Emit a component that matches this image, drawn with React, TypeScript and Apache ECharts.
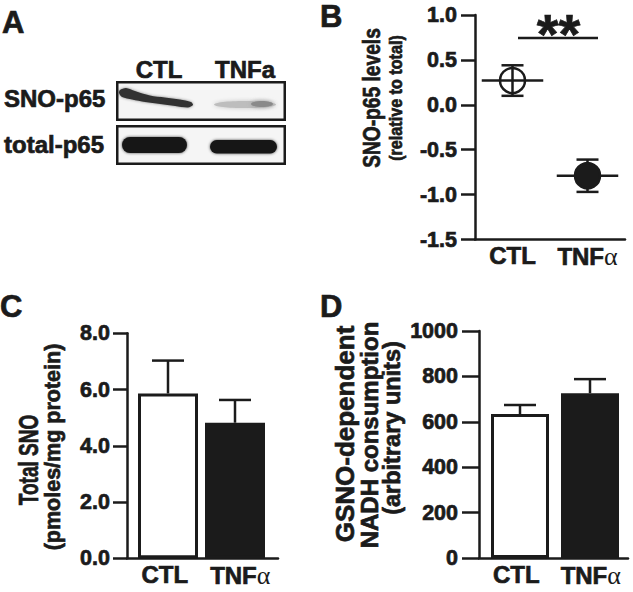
import React, { useEffect, useRef } from 'react';
import * as echarts from 'echarts';

// ---------- data ----------
const groups = ['CTL', 'TNFα'];
// Panel A (western blot labels)
const blotLanes = ['CTL', 'TNFa'];
const blotRows = ['SNO-p65', 'total-p65'];
// Panel B: SNO-p65 levels (relative to total), mean ± SEM
const snoMean = [0.27, -0.79];
const snoSem = [0.17, 0.18];
// Panel C: Total SNO (pmoles/mg protein)
const totalSnoMean = [5.86, 4.82];
const totalSnoSem = [1.17, 0.81];
// Panel D: GSNO-dependent NADH consumption (arbitrary units)
const nadhMean = [634, 726];
const nadhSem = [40, 62];
// significance mark
const sigLabel = '**';

const INK = '#1b1b1b';
const FONT = '"Liberation Sans", Arial, Helvetica, sans-serif';
const TB = 0.7; // text outline width to mimic the heavier original type

const lineStyle = { stroke: INK, lineWidth: 2.5 };

function renderDot(params: any, api: any) {
  const x = api.value(0);
  const m = api.value(1);
  const e = api.value(2);
  const c = api.coord([x, m]);
  const hi = api.coord([x, m + e]);
  const lo = api.coord([x, m - e]);
  const bw = api.size([1, 0])[0];
  const half = bw * 0.41;
  const cap = 11;
  const filled = params.dataIndex === 1;
  return {
    type: 'group',
    children: [
      { type: 'line', shape: { x1: c[0] - half, y1: c[1], x2: c[0] + half, y2: c[1] }, style: lineStyle },
      { type: 'line', shape: { x1: c[0], y1: hi[1], x2: c[0], y2: lo[1] }, style: lineStyle },
      { type: 'line', shape: { x1: c[0] - cap, y1: hi[1], x2: c[0] + cap, y2: hi[1] }, style: lineStyle },
      { type: 'line', shape: { x1: c[0] - cap, y1: lo[1], x2: c[0] + cap, y2: lo[1] }, style: lineStyle },
      {
        type: 'circle',
        shape: { cx: c[0], cy: c[1], r: 12.5 },
        style: { fill: filled ? INK : 'none', stroke: INK, lineWidth: 2.5 },
      },
    ],
  };
}

function renderUpperErr(params: any, api: any) {
  const x = api.value(0);
  const m = api.value(1);
  const e = api.value(2);
  const b = api.coord([x, m]);
  const t = api.coord([x, m + e]);
  const capHalf = 16;
  return {
    type: 'group',
    children: [
      { type: 'line', shape: { x1: b[0], y1: b[1], x2: b[0], y2: t[1] }, style: lineStyle },
      { type: 'line', shape: { x1: b[0] - capHalf, y1: t[1], x2: b[0] + capHalf, y2: t[1] }, style: lineStyle },
    ],
  };
}

const catRich = {
  b: { fontFamily: FONT, fontWeight: 'bold', fontSize: 24, color: INK, textBorderColor: INK, textBorderWidth: TB },
  g: { fontFamily: '"Liberation Serif", "DejaVu Serif", serif', fontWeight: 'normal', fontSize: 26, color: INK },
};
const catFormatter = (v: string) => {
  if (v.endsWith('α')) return '{b|' + v.slice(0, -1) + '}{g|α}';
  return '{b|' + v + '}';
};

function frameX(gridIndex: number) {
  return {
    type: 'category',
    gridIndex,
    data: groups,
    boundaryGap: true,
    axisLine: { show: true, onZero: false, lineStyle: { color: INK, width: 2.5 } },
    axisTick: { show: false },
    axisLabel: { show: true, interval: 0, margin: 4, formatter: catFormatter, rich: catRich },
    splitLine: { show: false },
  };
}
function dataX(gridIndex: number) {
  return {
    type: 'category',
    gridIndex,
    data: groups,
    boundaryGap: true,
    axisLine: { show: false, onZero: false },
    axisTick: { show: false },
    axisLabel: { show: false },
    splitLine: { show: false },
  };
}
function frameY(gridIndex: number, min: number, max: number, interval: number, fmt: (v: number) => string, tickLen: number, margin: number) {
  return {
    type: 'value',
    gridIndex,
    min,
    max,
    interval,
    axisLine: { show: true, onZero: false, lineStyle: { color: INK, width: 2.5 } },
    axisTick: { show: true, length: tickLen, lineStyle: { color: INK, width: 2.5 } },
    axisLabel: {
      show: true,
      margin,
      color: INK,
      fontSize: 21.5,
      fontWeight: 'bold',
      fontFamily: FONT,
      textBorderColor: INK,
      textBorderWidth: TB,
      formatter: fmt,
    },
    splitLine: { show: false },
  };
}
function hiddenY(gridIndex: number, min: number, max: number) {
  return { type: 'value', gridIndex, min, max, show: false, splitLine: { show: false } };
}

function txt(text: string, x: number, y: number, size: number, opts: any = {}) {
  return {
    type: 'text',
    x,
    y,
    rotation: opts.rotation || 0,
    scaleX: opts.scaleX || 1,
    silent: true,
    style: {
      text,
      fontSize: size,
      fontWeight: opts.weight || 'bold',
      fontFamily: FONT,
      fill: INK,
      stroke: INK,
      lineWidth: opts.border != null ? opts.border : TB,
      align: opts.align || 'left',
      verticalAlign: 'middle',
    },
  };
}
const rot = (scaleX = 1) => ({ rotation: Math.PI / 2, align: 'center', scaleX });

function buildOption() {
  const barData = (vals: number[]) =>
    vals.map((v, i) => ({ value: v, itemStyle: { color: i === 0 ? '#ffffff' : INK } }));

  const graphic: any[] = [
    // panel letters
    txt('A', 2, 22.5, 31),
    txt('B', 320, 16.5, 31),
    txt('C', 0, 306.5, 31),
    txt('D', 320, 306, 31),
    // blot boxes
    { type: 'rect', shape: { x: 117.25, y: 82.25, width: 167.5, height: 37.5 }, style: { fill: '#f5f5f5', stroke: INK, lineWidth: 2.5 } },
    { type: 'rect', shape: { x: 117.25, y: 126.25, width: 167.5, height: 37.5 }, style: { fill: '#f5f5f5', stroke: INK, lineWidth: 2.5 } },
    // SNO-p65 bands
    {
      type: 'polygon',
      shape: {
        points: [[120, 90], [126, 88], [135, 91], [150, 95.5], [165, 97.5], [180, 99.5], [191, 102], [193, 105], [188, 107.5], [175, 106], [160, 104], [145, 102], [132, 99.5], [122, 97], [119, 93]],
        smooth: 0.3,
      },
      style: { fill: '#333333', shadowBlur: 3, shadowColor: 'rgba(0,0,0,0.45)' },
    },
    { type: 'ellipse', shape: { cx: 245, cy: 104.5, rx: 31, ry: 3.6 }, style: { fill: '#bdbdbd', shadowBlur: 4, shadowColor: '#c4c4c4' } },
    { type: 'ellipse', shape: { cx: 262, cy: 104, rx: 11, ry: 3 }, style: { fill: '#8a8a8a', shadowBlur: 4, shadowColor: '#999999' } },
    // total-p65 bands
    { type: 'rect', shape: { x: 122, y: 137, width: 65, height: 16, r: 8 }, style: { fill: '#141414', shadowBlur: 3, shadowColor: 'rgba(0,0,0,0.7)' } },
    { type: 'rect', shape: { x: 210, y: 140, width: 67, height: 13.5, r: 7 }, style: { fill: '#141414', shadowBlur: 3, shadowColor: 'rgba(0,0,0,0.7)' } },
    // blot labels
    txt(blotLanes[0], 159, 69.5, 24, { align: 'center' }),
    txt(blotLanes[1], 245, 69.5, 24, { align: 'center' }),
    txt(blotRows[0], 4, 98, 24),
    txt(blotRows[1], 4, 144, 24),
    // significance
    { type: 'line', shape: { x1: 518, y1: 38, x2: 598, y2: 38 }, style: lineStyle },
    txt(sigLabel, 558.5, 33, 56, { align: 'center' }),
    // axis titles
    txt('SNO-p65 levels', 372, 98, 24, rot(0.8)),
    txt('(relative to total)', 396, 98, 19, rot(0.85)),
    txt('Total SNO', 28, 460, 28, rot(0.68)),
    txt('(pmoles/mg protein)', 53, 447, 21.5, rot()),
    txt('GSNO-dependent', 345, 434, 26, rot()),
    txt('NADH consumption', 369, 435, 24, rot()),
    txt('(arbitrary units)', 392, 428, 23.5, rot()),
  ];

  return {
    animation: false,
    backgroundColor: '#ffffff',
    textStyle: { fontFamily: FONT },
    grid: [
      { left: 475, top: 15, width: 150, height: 224.5 },
      { left: 127, top: 333.3, width: 151, height: 225 },
      { left: 134.5, top: 333.3, width: 134, height: 225 },
      { left: 479, top: 331, width: 149, height: 227 },
      { left: 485, top: 331, width: 140, height: 227 },
    ],
    xAxis: [frameX(0), frameX(1), dataX(2), frameX(3), dataX(4)],
    yAxis: [
      frameY(0, -1.5, 1.0, 0.5, (v: number) => v.toFixed(1), 14, 18),
      frameY(1, 0, 8, 2, (v: number) => v.toFixed(1), 14, 17),
      hiddenY(2, 0, 8),
      frameY(3, 0, 1000, 200, (v: number) => String(v), 17, 21),
      hiddenY(4, 0, 1000),
    ],
    series: [
      {
        type: 'custom',
        name: 'SNO-p65',
        xAxisIndex: 0,
        yAxisIndex: 0,
        renderItem: renderDot,
        data: snoMean.map((m, i) => [i, m, snoSem[i]]),
        z: 5,
      },
      {
        type: 'bar',
        name: 'Total SNO',
        xAxisIndex: 2,
        yAxisIndex: 2,
        barWidth: 60,
        data: barData(totalSnoMean),
        itemStyle: { borderColor: INK, borderWidth: 3 },
        z: 2,
      },
      {
        type: 'custom',
        name: 'Total SNO err',
        xAxisIndex: 2,
        yAxisIndex: 2,
        renderItem: renderUpperErr,
        data: totalSnoMean.map((m, i) => [i, m, totalSnoSem[i]]),
        z: 3,
      },
      {
        type: 'bar',
        name: 'NADH',
        xAxisIndex: 4,
        yAxisIndex: 4,
        barWidth: 58,
        data: barData(nadhMean),
        itemStyle: { borderColor: INK, borderWidth: 3 },
        z: 2,
      },
      {
        type: 'custom',
        name: 'NADH err',
        xAxisIndex: 4,
        yAxisIndex: 4,
        renderItem: renderUpperErr,
        data: nadhMean.map((m, i) => [i, m, nadhSem[i]]),
        z: 3,
      },
    ],
    graphic,
  };
}

export default function App() {
  const ref = useRef<HTMLDivElement>(null);
  useEffect(() => {
    if (!ref.current) return;
    const chart = echarts.init(ref.current, null, { renderer: 'svg' });
    chart.setOption(buildOption() as any);
    return () => chart.dispose();
  }, []);
  return (
    <div
      ref={ref}
      style={{ position: 'absolute', left: 0, top: 0, width: 633, height: 592, background: '#ffffff' }}
    />
  );
}
